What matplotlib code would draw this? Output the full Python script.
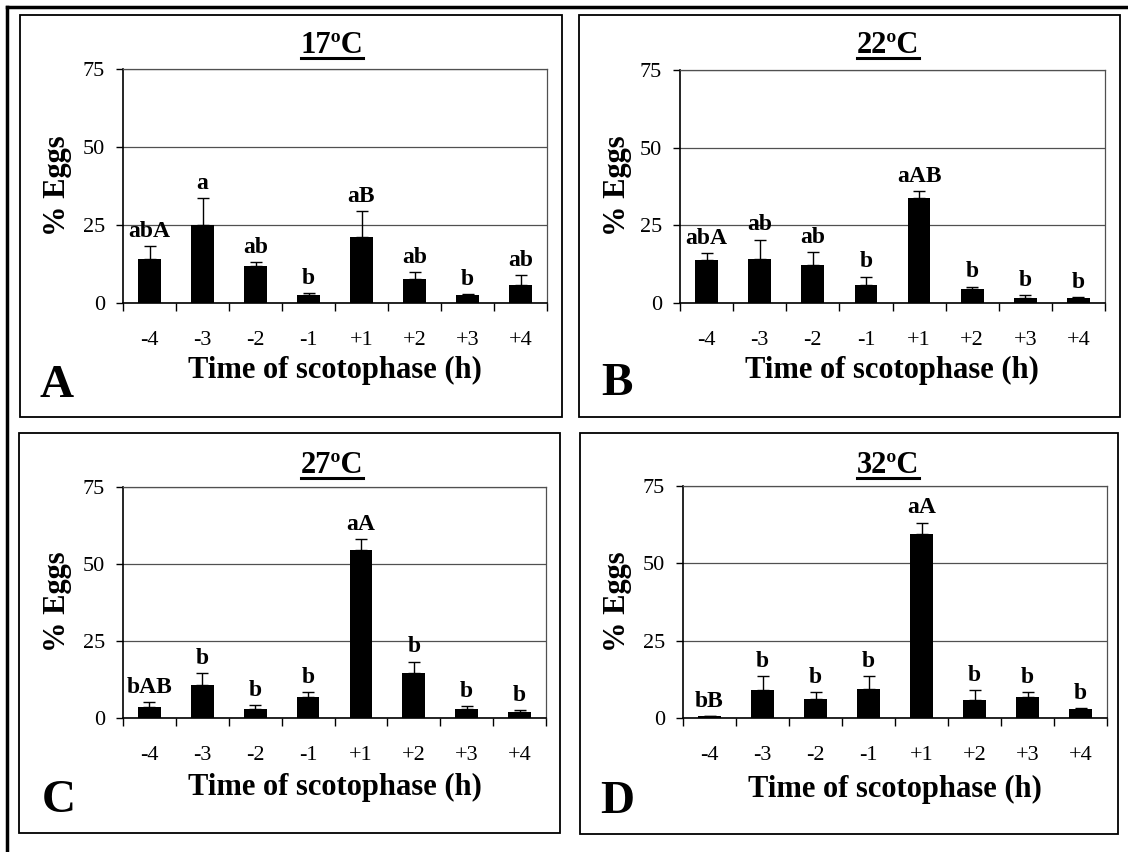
import matplotlib
matplotlib.use("Agg")
import matplotlib.pyplot as plt
from matplotlib.patches import Rectangle
from matplotlib.lines import Line2D
import numpy as np

plt.rcParams['font.family'] = ['Liberation Serif', 'DejaVu Serif']

hours = ['-4', '-3', '-2', '-1', '+1', '+2', '+3', '+4']
titles = ['17ºC', '22ºC', '27ºC', '32ºC']
panel_letters = ['A', 'B', 'C', 'D']

mean_17 = [14.1, 24.9, 11.8, 2.6, 21.0, 7.6, 2.6, 5.8]
err_17 = [4.1, 8.6, 1.3, 0.7, 8.4, 2.2, 0.3, 3.1]
letters_17 = ['abA', 'a', 'ab', 'b', 'aB', 'ab', 'b', 'ab']

mean_22 = [13.7, 14.1, 12.2, 5.8, 33.8, 4.4, 1.6, 1.6]
err_22 = [2.4, 6.3, 4.2, 2.7, 2.2, 0.9, 0.9, 0.3]
letters_22 = ['abA', 'ab', 'ab', 'b', 'aAB', 'b', 'b', 'b']

mean_27 = [3.5, 10.8, 2.9, 6.7, 54.5, 14.6, 2.9, 1.9]
err_27 = [1.6, 3.7, 1.3, 1.7, 3.6, 3.7, 0.9, 0.8]
letters_27 = ['bAB', 'b', 'b', 'b', 'aA', 'b', 'b', 'b']

mean_32 = [0.5, 8.9, 6.1, 9.5, 59.5, 5.7, 6.7, 2.9]
err_32 = [0.1, 4.6, 2.3, 4.1, 3.7, 3.2, 1.7, 0.4]
letters_32 = ['bB', 'b', 'b', 'b', 'aA', 'b', 'b', 'b']

means = [mean_17, mean_22, mean_27, mean_32]
errs = [err_17, err_22, err_27, err_32]
sig = [letters_17, letters_22, letters_27, letters_32]

W, H = 1128, 852
fig = plt.figure(figsize=(W / 100, H / 100), dpi=100)


def fx(x):
    return x / W


def fy(y):
    return 1 - y / H


# layout in pixels: axes (left, top, right, bottom), box (left, top, right, bottom)
axes_px = [(123, 69, 547, 303), (680, 70, 1105, 303),
           (123, 487, 546, 718), (683, 486, 1107, 718)]
box_px = [(20, 15, 562, 417), (579, 15, 1120, 417),
          (19, 433, 560, 833), (580, 433, 1118, 834)]
title_px = [(332, 53), (888, 53), (332, 473), (888, 473)]
xlab_px = [(335, 378), (892, 378), (335, 795), (895, 797)]
ylab_px = [(58, 186), (618, 186), (58, 602), (617, 602)]
letter_px = [(40, 397), (601, 395), (42, 812), (600, 813)]

# outer border (top and left)
fig.add_artist(Line2D([fx(7), 1], [fy(7), fy(7)], color='black', lw=2.5))
fig.add_artist(Line2D([fx(7), fx(7)], [fy(7), 0], color='black', lw=2.5))

x = np.arange(len(hours))
for i in range(4):
    bl, bt, br, bb = box_px[i]
    fig.add_artist(Rectangle((fx(bl), fy(bb)), fx(br - bl), (bb - bt) / H,
                             fill=False, edgecolor='black', lw=1.3))
    al, at, ar, ab = axes_px[i]
    ax = fig.add_axes([fx(al), fy(ab), fx(ar - al), (ab - at) / H])
    ax.bar(x, means[i], width=0.43, color='black', zorder=3)
    ax.errorbar(x, means[i], yerr=[np.zeros(len(x)), errs[i]], fmt='none',
                ecolor='black', elinewidth=1.0, capsize=4, capthick=1.0, zorder=4)
    for xi, m, e, s in zip(x, means[i], errs[i], sig[i]):
        ax.annotate(s, (xi, m + e), xytext=(0, 3), textcoords='offset points',
                    ha='center', va='bottom', fontsize=17, fontweight='bold', zorder=5)
    ax.set_xlim(-0.5, 7.5)
    ax.set_ylim(0, 75)
    ax.set_yticks([0, 25, 50, 75])
    ax.yaxis.grid(True, color='#505050', lw=0.9)
    ax.set_axisbelow(True)
    ax.set_xticks(x)
    ax.set_xticklabels(hours)
    ax.set_xticks(np.arange(-0.5, 8, 1), minor=True)
    ax.tick_params(axis='x', which='major', length=0, pad=20, labelsize=16)
    ax.tick_params(axis='x', which='minor', length=6, width=1, direction='out')
    ax.tick_params(axis='y', length=5, width=1, direction='out', pad=8, labelsize=16)
    for side in ['top', 'right']:
        ax.spines[side].set_color('#505050')
        ax.spines[side].set_linewidth(0.9)
    for side in ['left', 'bottom']:
        ax.spines[side].set_color('black')
        ax.spines[side].set_linewidth(1.2)

    tx, ty = title_px[i]
    t = fig.text(fx(tx), fy(ty), titles[i], ha='center', va='baseline',
                 fontsize=22, fontweight='bold')
    fig.canvas.draw()
    bbox = t.get_window_extent(renderer=fig.canvas.get_renderer())
    fig.add_artist(Line2D([bbox.x0 / W, bbox.x1 / W], [fy(ty + 5), fy(ty + 5)],
                          color='black', lw=2.2))

    lx, ly = xlab_px[i]
    fig.text(fx(lx), fy(ly), 'Time of scotophase (h)', ha='center', va='baseline',
             fontsize=22, fontweight='bold')
    yx, yy = ylab_px[i]
    fig.text(fx(yx), fy(yy), '% Eggs', ha='center', va='center', rotation=90,
             fontsize=22, fontweight='bold')
    px_, py_ = letter_px[i]
    fig.text(fx(px_), fy(py_), panel_letters[i], ha='left', va='baseline',
             fontsize=34, fontweight='bold')

fig.savefig('out.png', dpi=100)
